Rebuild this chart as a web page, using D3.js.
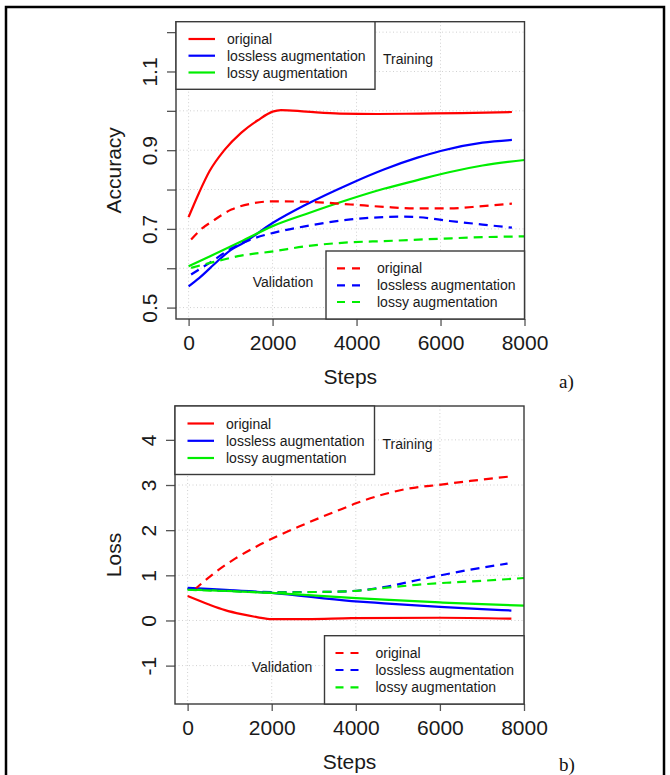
<!DOCTYPE html>
<html><head><meta charset="utf-8">
<script src="https://cdn.jsdelivr.net/npm/d3@7"></script>
<style>
html,body{margin:0;padding:0;background:#fff;}
svg{display:block;font-family:"Liberation Sans",Arial,sans-serif;}
</style></head>
<body>
<svg id="chart" width="670" height="775"></svg>
<script>
// ---------- DATA ----------
const seriesNames = ["original", "lossless augmentation", "lossy augmentation"];
const seriesColors = ["#ff0000", "#0000ff", "#00ee00"];

const xTicks = [0, 2000, 4000, 6000, 8000];
const xTickLabels = ["0", "2000", "4000", "6000", "8000"];

// Accuracy (panel a)
const accYTicks = [0.5, 0.6, 0.7, 0.8, 0.9, 1.0, 1.1, 1.2];
const accYTickLabels = ["0.5", "", "0.7", "", "0.9", "", "1.1", ""];

const accTrainOrigSteps = [0, 250, 500, 850, 1250, 1650, 2000, 2200, 2800, 3600, 4500, 5500, 6500, 7700];
const accTrainOrigVals  = [0.730, 0.792, 0.847, 0.900, 0.944, 0.976, 0.998, 1.002, 0.998, 0.993, 0.992, 0.993, 0.994, 0.997];
const accTrainLosslessSteps = [0, 250, 700, 1000, 1300, 2000, 2800, 3850, 4650, 5450, 6000, 7000, 7700];
const accTrainLosslessVals  = [0.554, 0.575, 0.619, 0.646, 0.664, 0.715, 0.762, 0.815, 0.851, 0.881, 0.898, 0.919, 0.926];
const accTrainLossySteps = [0, 500, 1250, 2000, 2800, 3850, 4650, 5450, 6200, 7000, 8000];
const accTrainLossyVals  = [0.605, 0.630, 0.668, 0.707, 0.738, 0.776, 0.802, 0.824, 0.844, 0.861, 0.875];

const accValOrigSteps = [60, 330, 560, 1020, 1480, 2020, 2800, 3860, 4650, 5430, 6220, 7000, 7700];
const accValOrigVals  = [0.673, 0.702, 0.719, 0.749, 0.764, 0.770, 0.769, 0.762, 0.756, 0.752, 0.752, 0.758, 0.764];
const accValLosslessSteps = [60, 490, 1020, 1480, 2020, 2800, 3860, 4650, 5040, 5430, 6220, 7000, 7700];
const accValLosslessVals  = [0.584, 0.613, 0.650, 0.673, 0.690, 0.707, 0.724, 0.730, 0.731, 0.730, 0.720, 0.711, 0.703];
const accValLossySteps = [60, 490, 1250, 2020, 2800, 3860, 4650, 6000, 7000, 8000];
const accValLossyVals  = [0.601, 0.613, 0.632, 0.643, 0.656, 0.666, 0.669, 0.675, 0.679, 0.681];

// Loss (panel b)
const lossYTicks = [-1, 0, 1, 2, 3, 4];
const lossYTickLabels = ["-1", "0", "1", "2", "3", "4"];

const lossTrainOrigSteps = [0, 490, 890, 1280, 1670, 2000, 2850, 3900, 6000, 7700];
const lossTrainOrigVals  = [0.54, 0.36, 0.23, 0.14, 0.07, 0.03, 0.03, 0.05, 0.06, 0.04];
const lossTrainLosslessSteps = [0, 2000, 3900, 4670, 6000, 7000, 7700];
const lossTrainLosslessVals  = [0.72, 0.61, 0.43, 0.38, 0.30, 0.25, 0.22];
const lossTrainLossySteps = [0, 2000, 3900, 4670, 6000, 7000, 8000];
const lossTrainLossyVals  = [0.69, 0.61, 0.50, 0.46, 0.40, 0.36, 0.33];

const lossValOrigSteps = [160, 620, 1130, 1640, 2140, 2650, 3160, 3670, 4020, 4690, 5190, 6030, 6720, 7680];
const lossValOrigVals  = [0.68, 1.04, 1.37, 1.64, 1.87, 2.08, 2.28, 2.47, 2.60, 2.80, 2.91, 3.01, 3.09, 3.19];
const lossValLosslessSteps = [0, 1000, 2000, 3000, 3880, 4670, 5450, 6020, 6630, 7610];
const lossValLosslessVals  = [0.70, 0.66, 0.63, 0.63, 0.65, 0.74, 0.89, 1.00, 1.11, 1.26];
const lossValLossySteps = [0, 1000, 2000, 3000, 3880, 4670, 5450, 6240, 7020, 8000];
const lossValLossyVals  = [0.68, 0.65, 0.62, 0.63, 0.65, 0.72, 0.79, 0.84, 0.88, 0.94];

// ---------- DRAWING ----------
const svg = d3.select("#chart");
svg.append("rect").attr("width", 670).attr("height", 775).attr("fill", "#fff");
// outer frame
svg.append("rect").attr("x", 6).attr("y", 7).attr("width", 658).attr("height", 820)
  .attr("fill", "none").attr("stroke", "#000").attr("stroke-width", 2.5);

const zip = (s, v) => s.map((d, i) => [d, v[i]]);

function panel(cfg) {
  const g = svg.append("g");
  const x = d3.scaleLinear().domain(cfg.xDomain).range([cfg.left, cfg.right]);
  const y = d3.scaleLinear().domain(cfg.yDomain).range([cfg.bottom, cfg.top]);

  // grid
  g.append("g").selectAll("line.gx").data(xTicks.slice(0, 4)).join("line")
    .attr("x1", d => x(d)).attr("x2", d => x(d)).attr("y1", cfg.top).attr("y2", cfg.bottom)
    .attr("stroke", "#d0d0d0").attr("stroke-width", 1).attr("stroke-dasharray", "1,2.5");
  g.append("g").selectAll("line.gy").data(cfg.yTicks).join("line")
    .attr("y1", d => y(d)).attr("y2", d => y(d)).attr("x1", cfg.left).attr("x2", cfg.right)
    .attr("stroke", "#d0d0d0").attr("stroke-width", 1).attr("stroke-dasharray", "1,2.5");

  // axes
  const xAxis = d3.axisBottom(x).tickValues(xTicks).tickFormat((d, i) => xTickLabels[i])
    .tickSizeOuter(0).tickSizeInner(7).tickPadding(9);
  const xa = g.append("g").attr("transform", `translate(0,${cfg.bottom})`).call(xAxis);
  xa.select(".domain").remove();
  xa.selectAll("line").attr("stroke", "#555").attr("stroke-width", 1.3);
  xa.selectAll("text").attr("font-size", 21).attr("fill", "#1a1a1a")
    .attr("font-family", "Liberation Sans, Arial, sans-serif");

  const yAxis = d3.axisLeft(y).tickValues(cfg.yTicks).tickFormat((d, i) => cfg.yTickLabels[i])
    .tickSizeOuter(0).tickSizeInner(9).tickPadding(0);
  const ya = g.append("g").attr("transform", `translate(${cfg.left},0)`).call(yAxis);
  ya.select(".domain").remove();
  ya.selectAll("line").attr("stroke", "#555").attr("stroke-width", 1.3);
  ya.selectAll("text")
    .attr("font-size", 21).attr("fill", "#1a1a1a")
    .attr("font-family", "Liberation Sans, Arial, sans-serif")
    .attr("x", null).attr("y", null).attr("dy", null)
    .attr("text-anchor", "middle")
    .attr("transform", `translate(${cfg.yLabelBaseX - cfg.left},0) rotate(-90)`);

  // lines
  const line = d3.line().x(d => x(d[0])).y(d => y(d[1])).curve(d3.curveMonotoneX);
  cfg.series.forEach(s => {
    g.append("path").datum(s.data).attr("d", line).attr("fill", "none")
      .attr("stroke", s.color).attr("stroke-width", 2.2)
      .attr("stroke-dasharray", s.dashed ? "9,6" : null);
  });

  // box
  g.append("rect").attr("x", cfg.left).attr("y", cfg.top)
    .attr("width", cfg.right - cfg.left).attr("height", cfg.bottom - cfg.top)
    .attr("fill", "none").attr("stroke", "#3a3a3a").attr("stroke-width", 1.4);

  // legends
  function legend(bx, by, bw, bh, rows, dashed, lx1, lx2, tx) {
    const lg = g.append("g");
    lg.append("rect").attr("x", bx).attr("y", by).attr("width", bw).attr("height", bh)
      .attr("fill", "#fff").attr("stroke", "#3a3a3a").attr("stroke-width", 1.4);
    seriesNames.forEach((n, i) => {
      lg.append("line").attr("x1", lx1).attr("x2", lx2).attr("y1", rows[i]).attr("y2", rows[i])
        .attr("stroke", seriesColors[i]).attr("stroke-width", 2.2)
        .attr("stroke-dasharray", dashed ? "8,7" : null);
      lg.append("text").attr("x", tx).attr("y", rows[i] + 5).text(n)
        .attr("font-size", 14).attr("fill", "#1a1a1a");
    });
  }
  legend(cfg.left, cfg.top, cfg.trainLegendRight - cfg.left, cfg.trainLegendBottom - cfg.top,
    cfg.trainRows, false, cfg.left + 12.5, cfg.left + 39, cfg.left + 51);
  legend(cfg.valLegendLeft, cfg.valLegendTop, cfg.right - cfg.valLegendLeft, cfg.bottom - cfg.valLegendTop,
    cfg.valRows, true, cfg.valLegendLeft + 11, cfg.valLegendLeft + 35, cfg.valLegendLeft + 51);

  g.append("text").attr("x", cfg.trainLegendRight + 8).attr("y", cfg.trainRows[1] + 8)
    .text("Training").attr("font-size", 14).attr("fill", "#1a1a1a");
  g.append("text").attr("x", cfg.validationX).attr("y", cfg.valRows[1] + 2)
    .attr("text-anchor", "middle").text("Validation").attr("font-size", 14).attr("fill", "#1a1a1a");

  // axis titles
  g.append("text").attr("x", (cfg.left + cfg.right) / 2).attr("y", cfg.stepsY)
    .attr("text-anchor", "middle").text("Steps").attr("font-size", 21).attr("fill", "#1a1a1a");
  g.append("text").attr("transform", `translate(121,${(cfg.top + cfg.bottom) / 2 + cfg.yTitleShift}) rotate(-90)`)
    .attr("text-anchor", "middle").text(cfg.yTitle).attr("font-size", 21).attr("fill", "#1a1a1a");

  g.append("text").attr("x", 559).attr("y", cfg.tagY).text(cfg.tag)
    .attr("font-family", "Liberation Serif, Times New Roman, serif").attr("font-size", 19).attr("fill", "#111");
}

panel({
  left: 176, right: 524.5, top: 21.7, bottom: 319,
  xDomain: [-300, 8000], yDomain: [0.471, 1.2265],
  yTicks: accYTicks, yTickLabels: accYTickLabels, yLabelBaseX: 156.5,
  yTitle: "Accuracy", yTitleShift: 0,
  trainLegendRight: 375, trainLegendBottom: 89.3, trainRows: [39, 55.7, 72.5],
  valLegendLeft: 326, valLegendTop: 251, valRows: [268.3, 285.3, 302],
  validationX: 283, stepsY: 383.5, tag: "a)", tagY: 388,
  series: [
    {data: zip(accTrainOrigSteps, accTrainOrigVals), color: seriesColors[0], dashed: false},
    {data: zip(accTrainLosslessSteps, accTrainLosslessVals), color: seriesColors[1], dashed: false},
    {data: zip(accTrainLossySteps, accTrainLossyVals), color: seriesColors[2], dashed: false},
    {data: zip(accValOrigSteps, accValOrigVals), color: seriesColors[0], dashed: true},
    {data: zip(accValLosslessSteps, accValLosslessVals), color: seriesColors[1], dashed: true},
    {data: zip(accValLossySteps, accValLossyVals), color: seriesColors[2], dashed: true}
  ]
});

panel({
  left: 175, right: 524, top: 406, bottom: 704,
  xDomain: [-300, 8000], yDomain: [-1.85, 4.75],
  yTicks: lossYTicks, yTickLabels: lossYTickLabels, yLabelBaseX: 156,
  yTitle: "Loss", yTitleShift: 0,
  trainLegendRight: 374.5, trainLegendBottom: 474.5, trainRows: [423.5, 440.8, 458],
  valLegendLeft: 324.5, valLegendTop: 635.7, valRows: [653, 670, 687.3],
  validationX: 282, stepsY: 769, tag: "b)", tagY: 771,
  series: [
    {data: zip(lossTrainOrigSteps, lossTrainOrigVals), color: seriesColors[0], dashed: false},
    {data: zip(lossTrainLosslessSteps, lossTrainLosslessVals), color: seriesColors[1], dashed: false},
    {data: zip(lossTrainLossySteps, lossTrainLossyVals), color: seriesColors[2], dashed: false},
    {data: zip(lossValOrigSteps, lossValOrigVals), color: seriesColors[0], dashed: true},
    {data: zip(lossValLosslessSteps, lossValLosslessVals), color: seriesColors[1], dashed: true},
    {data: zip(lossValLossySteps, lossValLossyVals), color: seriesColors[2], dashed: true}
  ]
});
</script>
</body></html>
